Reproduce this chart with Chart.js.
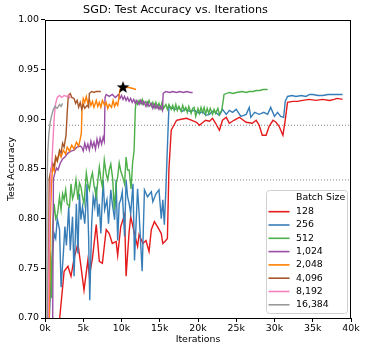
<!DOCTYPE html>
<html>
<head>
<meta charset="utf-8">
<script src="https://cdn.jsdelivr.net/npm/chart.js@4.4.1/dist/chart.umd.min.js"></script>
<style>
  html, body { margin: 0; padding: 0; background: #fff; }
</style>
</head>
<body>
<canvas id="chart" width="366" height="352"></canvas>
<script>
// iterations in thousands, test accuracy
const batchSizes = ['128', '256', '512', '1,024', '2,048', '4,096', '8,192', '16,384'];
const colors = ['#e41a1c', '#377eb8', '#4daf4a', '#984ea3', '#ff7f00', '#a65628', '#f781bf', '#999999'];

const run128 = [[1.8,0.690],[2.5,0.747],[3.0,0.752],[3.4,0.742],[3.8,0.760],[4.3,0.775],[4.7,0.752],[5.1,0.728],[5.6,0.758],[5.8,0.742],
  [6.2,0.760],[6.7,0.794],[7.1,0.757],[7.5,0.755],[8.0,0.789],[8.4,0.785],[8.8,0.775],[9.3,0.777],[9.5,0.763],[9.9,0.792],
  [10.4,0.804],[10.6,0.742],[11.0,0.787],[11.2,0.802],[11.7,0.785],[12.1,0.772],[12.3,0.784],[12.8,0.775],[13.2,0.778],[13.6,0.767],
  [13.9,0.789],[14.3,0.797],[14.7,0.792],[15.2,0.785],[15.4,0.775],[15.8,0.778],[16.0,0.780],[16.2,0.850],[16.5,0.889],[17.2,0.899],
  [17.8,0.900],[18.5,0.901],[19.2,0.899],[19.8,0.897],[20.2,0.894],[20.5,0.896],[21.0,0.899],[21.5,0.898],[21.9,0.901],[22.3,0.896],
  [22.8,0.889],[23.2,0.899],[23.7,0.902],[24.1,0.896],[24.7,0.899],[25.4,0.902],[26.3,0.897],[27.1,0.896],[27.6,0.899],[28.0,0.894],
  [28.4,0.884],[28.9,0.884],[29.3,0.893],[29.8,0.899],[30.2,0.897],[30.6,0.893],[31.1,0.884],[31.4,0.899],[31.7,0.917],[32.4,0.918],
  [33.0,0.918],[33.7,0.919],[34.5,0.920],[35.4,0.919],[36.3,0.920],[37.2,0.919],[37.8,0.920],[38.2,0.921],[38.9,0.920]];

const run256 = [[0.5,0.690],[0.8,0.740],[1.0,0.768],[1.2,0.785],[1.4,0.780],[1.6,0.800],[1.9,0.789],[2.1,0.731],[2.4,0.765],[2.6,0.792],
  [2.8,0.773],[3.1,0.812],[3.3,0.768],[3.6,0.802],[3.8,0.742],[4.1,0.815],[4.3,0.765],[4.5,0.825],[4.7,0.799],[4.9,0.812],
  [5.2,0.795],[5.5,0.835],[5.7,0.782],[5.85,0.718],[6.1,0.795],[6.3,0.822],[6.5,0.812],[6.7,0.832],[6.9,0.802],[7.1,0.815],
  [7.3,0.785],[7.6,0.839],[7.8,0.809],[8.1,0.819],[8.3,0.795],[8.6,0.829],[8.8,0.815],[9.1,0.799],[9.3,0.839],[9.5,0.778],
  [9.7,0.815],[9.9,0.819],[10.1,0.827],[10.4,0.782],[10.6,0.839],[10.8,0.822],[11.0,0.815],[11.2,0.805],[11.5,0.835],[11.7,0.758],
  [12.1,0.830],[12.3,0.805],[12.7,0.747],[13.0,0.829],[13.4,0.822],[13.9,0.827],[14.1,0.817],[14.5,0.825],[14.9,0.829],[15.2,0.800],
  [15.4,0.819],[15.6,0.794],[15.8,0.829],[16.0,0.872],[16.2,0.913],[16.6,0.911],[17.1,0.910],[17.5,0.912],[17.9,0.908],[18.4,0.910],
  [18.9,0.908],[19.5,0.909],[20.2,0.906],[20.6,0.908],[21.0,0.904],[21.5,0.905],[21.9,0.908],[22.3,0.907],[22.8,0.904],[23.2,0.910],
  [23.7,0.905],[24.1,0.909],[24.5,0.907],[25.0,0.910],[25.6,0.903],[26.3,0.905],[26.7,0.912],[26.9,0.902],[27.4,0.907],[28.0,0.905],
  [28.6,0.907],[29.1,0.905],[29.5,0.912],[30.0,0.903],[30.4,0.907],[30.8,0.903],[31.2,0.902],[31.4,0.918],[31.7,0.923],[32.3,0.924],
  [32.8,0.923],[33.5,0.924],[34.1,0.923],[34.6,0.925],[35.0,0.925],[35.7,0.924],[36.3,0.924],[37.0,0.925],[37.6,0.925],[38.2,0.925],[38.9,0.925]];

const run512 = [[0.3,0.690],[0.5,0.772],[0.7,0.762],[0.85,0.720],[1.0,0.792],[1.2,0.815],[1.4,0.800],[1.65,0.805],[1.9,0.822],[2.1,0.809],
  [2.3,0.825],[2.5,0.819],[2.7,0.829],[2.9,0.815],[3.2,0.812],[3.4,0.835],[3.6,0.820],[3.8,0.825],[4.05,0.839],[4.3,0.819],
  [4.5,0.836],[4.7,0.832],[4.9,0.822],[5.1,0.815],[5.4,0.846],[5.6,0.835],[5.8,0.829],[6.0,0.840],[6.2,0.846],[6.4,0.834],
  [6.7,0.822],[6.9,0.838],[7.1,0.852],[7.3,0.840],[7.5,0.832],[7.75,0.859],[8.0,0.845],[8.2,0.839],[8.4,0.849],[8.6,0.855],
  [8.85,0.840],[9.05,0.809],[9.3,0.835],[9.5,0.842],[9.7,0.856],[9.9,0.848],[10.15,0.842],[10.4,0.835],[10.6,0.862],[10.8,0.849],
  [11.0,0.849],[11.25,0.830],[11.45,0.856],[11.65,0.869],[11.8,0.909],[11.9,0.918],[12.1,0.915],[12.3,0.919],[12.5,0.916],[12.7,0.920],
  [12.9,0.915],[13.2,0.918],[13.4,0.914],[13.6,0.919],[13.9,0.913],[14.1,0.917],[14.3,0.912],[14.5,0.917],[14.7,0.912],[14.9,0.916],
  [15.1,0.911],[15.3,0.917],[15.5,0.911],[15.8,0.915],[16.0,0.910],[16.2,0.915],[16.5,0.910],[16.7,0.914],[16.9,0.909],[17.1,0.915],
  [17.3,0.909],[17.5,0.913],[17.8,0.908],[18.0,0.914],[18.2,0.909],[18.4,0.912],[18.6,0.907],[18.8,0.913],[19.1,0.906],[19.3,0.911],
  [19.5,0.912],[19.7,0.903],[20.0,0.911],[20.2,0.906],[20.4,0.912],[20.6,0.907],[20.8,0.912],[21.0,0.905],[21.2,0.911],[21.4,0.906],
  [21.6,0.911],[21.9,0.905],[22.1,0.910],[22.3,0.906],[22.6,0.911],[22.8,0.905],[23.1,0.909],[23.3,0.919],[23.4,0.925],[24.1,0.927],
  [24.6,0.926],[25.0,0.927],[25.8,0.928],[26.3,0.927],[26.7,0.928],[27.2,0.928],[27.6,0.929],[28.1,0.929],[28.5,0.930],[29.1,0.930]];

const run1024 = [[1.0,0.690],[1.1,0.840],[1.3,0.846],[1.5,0.851],[1.7,0.849],[2.0,0.856],[2.3,0.860],[2.6,0.862],[3.0,0.866],[3.4,0.868],
  [3.8,0.869],[4.2,0.872],[4.6,0.873],[4.8,0.872],[5.0,0.868],[5.2,0.876],[5.4,0.870],[5.6,0.875],[5.8,0.869],[6.0,0.878],
  [6.2,0.872],[6.4,0.877],[6.6,0.870],[6.8,0.880],[7.0,0.873],[7.2,0.881],[7.4,0.875],[7.6,0.882],[7.75,0.878],[7.85,0.922],
  [8.0,0.925],[8.4,0.923],[8.8,0.925],[9.2,0.922],[9.6,0.925],[9.8,0.921],[10.0,0.924],[10.2,0.920],[10.4,0.923],[10.6,0.919],
  [10.8,0.922],[11.0,0.918],[11.2,0.921],[11.4,0.917],[11.6,0.920],[11.8,0.916],[12.0,0.919],[12.3,0.915],[12.5,0.919],[12.7,0.915],
  [12.9,0.918],[13.2,0.913],[13.4,0.917],[13.6,0.913],[13.9,0.916],[14.1,0.911],[14.3,0.915],[14.5,0.911],[14.7,0.914],[14.9,0.910],
  [15.1,0.913],[15.35,0.909],[15.45,0.926],[15.8,0.928],[16.3,0.927],[16.7,0.928],[17.2,0.927],[17.6,0.928],[18.1,0.927],[18.5,0.928],
  [19.0,0.927],[19.3,0.927]];

const run2048 = [[0.55,0.690],[0.7,0.800],[0.85,0.835],[1.0,0.852],[1.2,0.848],[1.4,0.862],[1.6,0.858],[1.9,0.866],[2.1,0.862],[2.4,0.869],
  [2.7,0.865],[2.9,0.872],[3.2,0.868],[3.5,0.874],[3.8,0.870],[4.1,0.877],[4.4,0.873],[4.6,0.880],[4.75,0.886],[4.85,0.913],
  [5.0,0.921],[5.2,0.917],[5.4,0.923],[5.6,0.916],[5.8,0.920],[6.0,0.914],[6.2,0.918],[6.4,0.912],[6.7,0.919],[6.9,0.913],
  [7.1,0.917],[7.3,0.912],[7.5,0.919],[7.8,0.914],[8.0,0.917],[8.2,0.911],[8.4,0.915],[8.7,0.912],[8.9,0.919],[9.1,0.913],
  [9.3,0.917],[9.5,0.914],[9.65,0.921],[9.8,0.930],[10.2,0.933],[10.7,0.932],[11.0,0.932],[11.5,0.931],[11.9,0.930]];

const run4096 = [[0.4,0.690],[0.55,0.840],[0.8,0.850],[1.0,0.856],[1.2,0.852],[1.4,0.862],[1.6,0.858],[1.9,0.869],[2.1,0.866],[2.3,0.876],
  [2.5,0.872],[2.75,0.884],[2.9,0.906],[3.05,0.924],[3.3,0.926],[3.5,0.922],[3.8,0.921],[4.0,0.916],[4.2,0.919],[4.4,0.912],
  [4.6,0.917],[4.8,0.910],[5.0,0.915],[5.2,0.911],[5.5,0.914],[5.7,0.912],[5.8,0.926],[6.1,0.928],[6.4,0.927],[6.7,0.928],
  [7.0,0.928],[7.3,0.928]];

const run8192 = [[0.4,0.690],[0.6,0.800],[0.75,0.845],[0.9,0.856],[1.0,0.872],[1.15,0.895],[1.25,0.906],[1.4,0.916],[1.6,0.922],[1.9,0.924],
  [2.2,0.922],[2.5,0.924],[2.8,0.923],[3.1,0.924],[3.3,0.921]];

const run16384 = [[0.15,0.690],[0.25,0.820],[0.35,0.865],[0.5,0.885],[0.7,0.898],[0.9,0.905],[1.1,0.910],[1.3,0.913],[1.6,0.911],[1.9,0.915],
  [2.1,0.913],[2.3,0.916]];

const runs = [run128, run256, run512, run1024, run2048, run4096, run8192, run16384];

// best run marker and the two dotted reference levels
const bestPoint = [10.2, 0.9325];
const refLevels = [0.894, 0.839];

const xTicks = [0, 5, 10, 15, 20, 25, 30, 35, 40];
const yTicks = [0.70, 0.75, 0.80, 0.85, 0.90, 0.95, 1.00];

Chart.defaults.font.family = 'DejaVu Sans';
Chart.defaults.color = '#000';

function toPoints(run) {
    return run.map(p => ({ x: p[0], y: p[1] }));
}

// filled black star for the best point
const star = document.createElement('canvas');
star.width = 14;
star.height = 14;
(function () {
    const g = star.getContext('2d');
    g.beginPath();
    for (let i = 0; i < 10; i++) {
        const r = i % 2 === 0 ? 6.6 : 2.7;
        const a = -Math.PI / 2 + i * Math.PI / 5;
        g.lineTo(7 + r * Math.cos(a), 7.5 + r * Math.sin(a));
    }
    g.closePath();
    g.fillStyle = '#000';
    g.fill();
})();

const datasets = runs.map((run, i) => ({
    label: batchSizes[i],
    data: toPoints(run),
    borderColor: colors[i],
    backgroundColor: colors[i],
    borderWidth: 1.4,
    pointRadius: 0,
    tension: 0,
    order: 7 - i,
    isRun: true
}));

refLevels.forEach(level => {
    datasets.push({
        label: 'ref',
        data: [{ x: xTicks[0], y: level }, { x: xTicks[xTicks.length - 1], y: level }],
        borderColor: '#777',
        borderWidth: 0.9,
        borderDash: [1, 2],
        pointRadius: 0,
        order: 20
    });
});

datasets.push({
    label: 'best',
    data: [{ x: bestPoint[0], y: bestPoint[1] }],
    showLine: false,
    pointStyle: star,
    pointRadius: 7,
    order: -1
});

const framePlugin = {
    id: 'frame',
    afterDatasetsDraw(chart) {
        const { ctx, chartArea: a } = chart;
        ctx.save();
        ctx.strokeStyle = '#000';
        ctx.lineWidth = 1;
        ctx.strokeRect(Math.round(a.left) + 0.5, Math.round(a.top) + 0.5,
            Math.round(a.right - a.left) - 1, Math.round(a.bottom - a.top));
        ctx.restore();
    }
};

const legendPlugin = {
    id: 'batchLegend',
    afterDraw(chart) {
        const { ctx, chartArea: a } = chart;
        const w = 81, h = 123;
        const x0 = a.right - 4 - w, y0 = a.bottom - 5 - h;
        ctx.save();
        ctx.beginPath();
        ctx.roundRect(x0 + 0.5, y0 + 0.5, w, h, 3);
        ctx.fillStyle = 'rgba(255,255,255,0.85)';
        ctx.fill();
        ctx.strokeStyle = '#d0d0d0';
        ctx.lineWidth = 1;
        ctx.stroke();

        ctx.font = '9.4px "DejaVu Sans"';
        ctx.textBaseline = 'middle';
        ctx.textAlign = 'left';
        ctx.fillStyle = '#000';
        const textX = x0 + 30;
        ctx.fillText('Batch Size', textX, y0 + 7.5);
        chart.data.datasets.filter(d => d.isRun).forEach((d, i) => {
            const y = y0 + 21.7 + i * 13.3;
            ctx.strokeStyle = d.borderColor;
            ctx.lineWidth = 1.6;
            ctx.beginPath();
            ctx.moveTo(x0 + 2.5, y);
            ctx.lineTo(x0 + 23.5, y);
            ctx.stroke();
            ctx.fillText(d.label, textX, y);
        });
        ctx.restore();
    }
};

new Chart(document.getElementById('chart'), {
    type: 'line',
    data: { datasets },
    plugins: [framePlugin, legendPlugin],
    options: {
        responsive: false,
        animation: false,
        layout: { padding: { left: 0, right: 15, top: 0, bottom: 0 } },
        plugins: {
            legend: { display: false },
            tooltip: { enabled: false },
            title: {
                display: true,
                text: 'SGD: Test Accuracy vs. Iterations',
                font: { size: 11.2, weight: 'normal' },
                color: '#000',
                padding: { top: 3.5, bottom: 3 }
            }
        },
        scales: {
            x: {
                type: 'linear',
                min: xTicks[0],
                max: xTicks[xTicks.length - 1],
                afterBuildTicks: s => { s.ticks = xTicks.map(v => ({ value: v })); },
                afterFit: s => { s.height = 34; },
                ticks: {
                    callback: v => v + 'k',
                    font: { size: 9.4 },
                    color: '#000',
                    padding: 0.5,
                    maxRotation: 0
                },
                grid: { drawOnChartArea: false, tickLength: 4, color: '#000' },
                border: { display: false },
                title: {
                    display: true,
                    text: 'Iterations',
                    font: { size: 9.4 },
                    color: '#000',
                    padding: { top: 0, bottom: 6.5 }
                }
            },
            y: {
                type: 'linear',
                min: yTicks[0],
                max: yTicks[yTicks.length - 1],
                afterBuildTicks: s => { s.ticks = yTicks.map(v => ({ value: v })); },
                afterFit: s => { s.width = 45; },
                ticks: {
                    callback: v => v.toFixed(2),
                    font: { size: 9.4 },
                    color: '#000',
                    padding: 2
                },
                grid: { drawOnChartArea: false, tickLength: 4, color: '#000' },
                border: { display: false },
                title: {
                    display: true,
                    text: 'Test Accuracy',
                    font: { size: 9.4 },
                    color: '#000',
                    padding: { top: 6, bottom: 0 }
                }
            }
        }
    }
});
</script>
</body>
</html>
